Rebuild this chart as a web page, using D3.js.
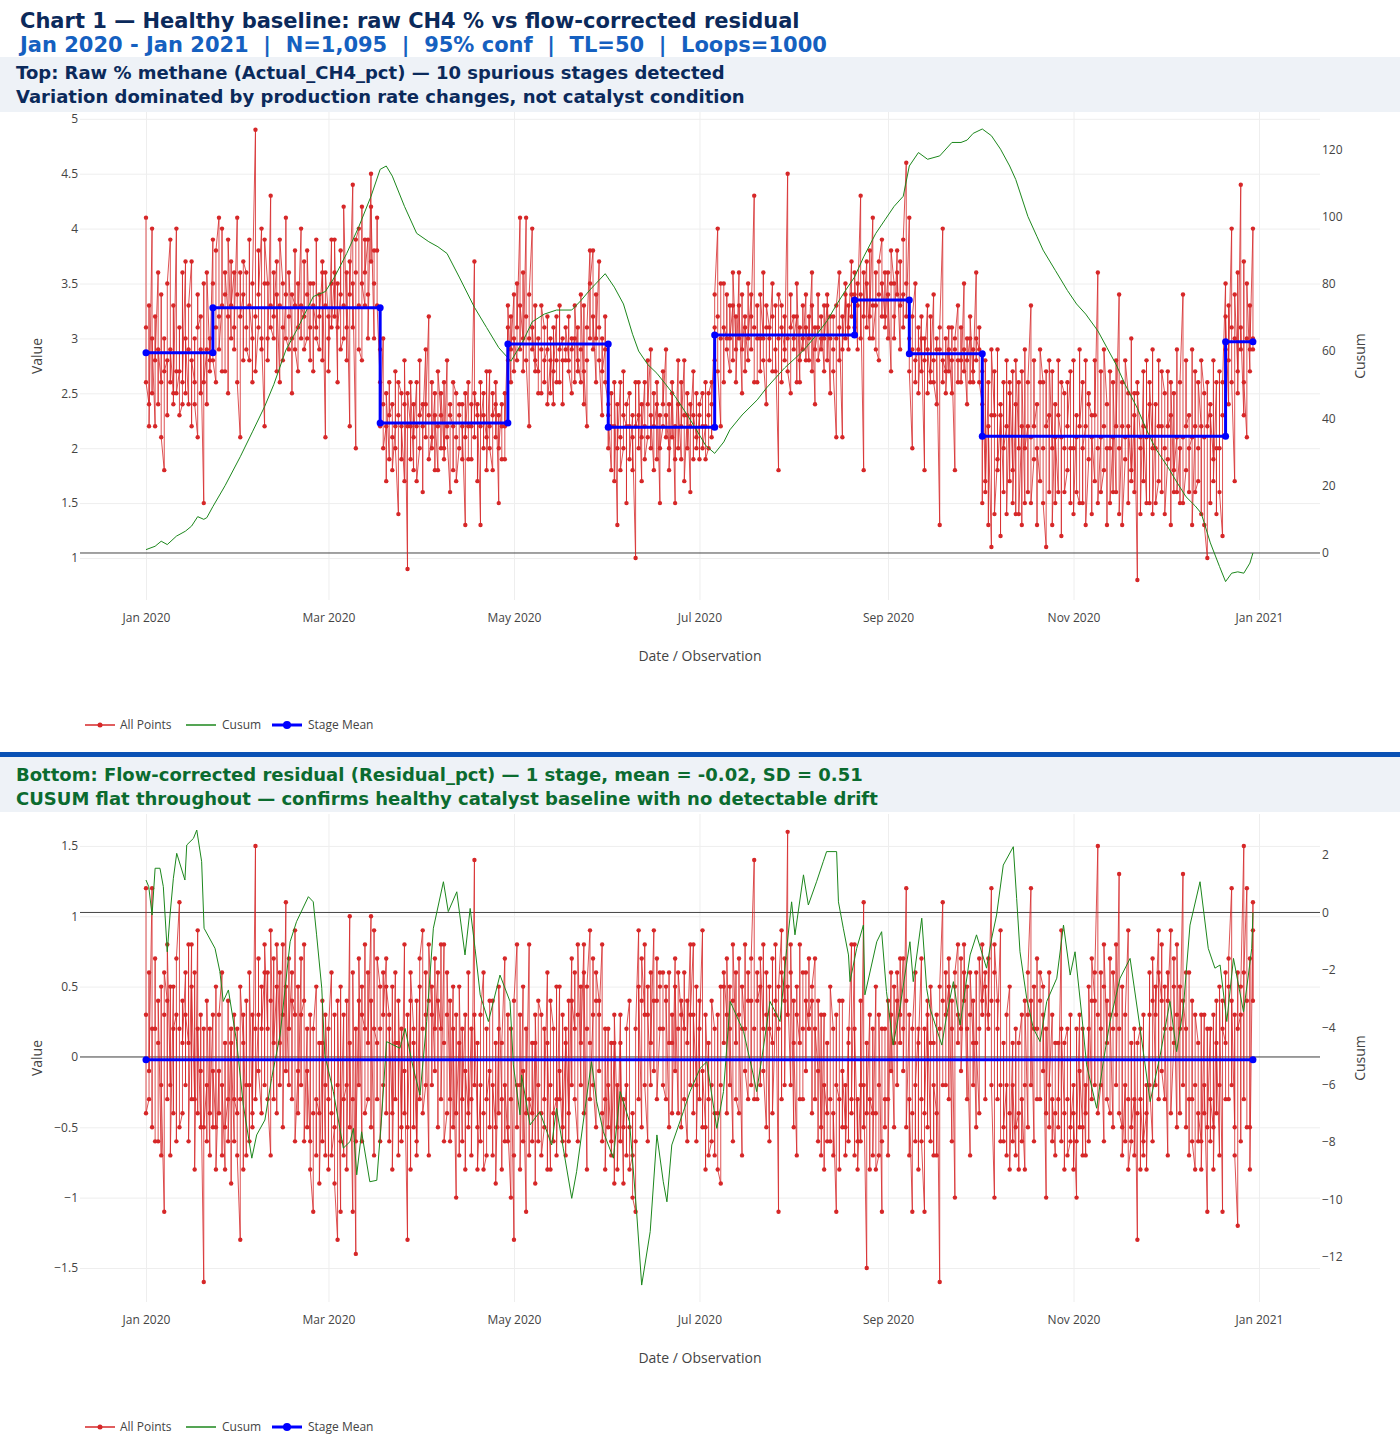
<!DOCTYPE html>
<html><head><meta charset="utf-8">
<script src="https://cdn.jsdelivr.net/npm/d3@7"></script>
<style>body{margin:0;background:#fff;}svg{display:block;font-family:"Open Sans",sans-serif;}</style>
</head><body><svg id="c" width="1400" height="1454"></svg>
<script>
// ---------------- DATA ----------------
const START = "2020-01-01";          // first observation date; 3 observations per daily timestamp
const OBS_PER_DAY = 3;
const xTickLabels = ["2020-01-01","2020-03-01","2020-05-01","2020-07-01","2020-09-01","2020-11-01","2021-01-01"];

// Top panel: raw % methane (Actual_CH4_pct), 1,095 observations
const rawCH4 = [
// stage 1
4.1,3.1,2.6, 2.4,3.3,2.2, 4.0,2.5,3.0, 2.2,3.2,2.8, 3.6,2.4,2.9, 2.6,3.4,2.1, 1.8,3.0,2.7, 2.8,2.3,3.5, 3.9,2.6,2.9, 2.5,3.3,2.4,
4.0,2.7,2.5, 2.7,3.1,2.3, 2.4,3.6,2.6, 3.7,2.5,3.0, 2.4,2.9,3.3, 3.7,2.2,2.8, 2.6,3.0,2.4, 2.1,3.4,3.1, 3.2,2.5,2.9, 1.5,3.5,2.6,
2.9,2.4,3.6, 2.8,3.0,2.7,
// stage 2
3.9,3.5,2.8, 2.6,3.1,3.8, 4.1,3.2,2.9, 3.3,4.0,2.7, 2.7,3.4,3.6, 3.2,2.5,3.9, 3.0,3.7,3.3, 3.6,2.9,3.1, 4.1,3.4,2.6, 2.1,3.6,3.2,
3.4,2.8,3.7, 3.6,3.1,2.9, 2.8,3.9,3.3, 3.0,2.6,3.5, 4.9,3.2,2.7, 3.1,3.8,3.4, 4.0,2.9,3.0, 2.2,3.5,3.9, 3.5,3.0,2.8, 4.3,3.3,3.1,
3.0,3.6,3.2, 3.7,2.7,3.4, 2.6,3.3,3.9, 3.5,3.1,2.8, 3.4,4.1,3.0, 2.9,3.2,3.6, 3.0,2.5,3.4, 3.3,3.8,2.9, 2.7,3.5,3.1, 4.0,3.0,3.3,
3.2,3.7,2.9, 3.0,3.4,3.8, 2.8,3.1,3.5, 3.5,2.7,3.3, 3.1,3.9,3.0, 2.9,3.4,3.2, 3.6,2.8,3.7, 2.1,3.3,3.6, 3.2,3.0,2.7, 3.9,3.5,3.1,
3.6,3.2,3.9, 2.6,3.5,3.1, 3.4,3.8,2.9, 3.0,3.3,4.2, 3.1,2.8,3.6, 2.2,3.7,3.4, 4.4,3.1,3.5, 2.0,3.6,3.9, 4.0,3.3,2.9, 2.8,4.2,3.5,
3.3,3.9,3.6, 3.9,3.4,3.0, 4.5,3.7,4.2, 3.0,3.5,3.8, 3.8,4.1,3.3,
// stage 3
2.6,2.9,2.2, 3.0,2.4,2.0, 2.2,1.7,2.5, 1.9,2.6,2.3, 2.4,2.1,1.8, 2.2,2.7,2.0, 1.4,2.3,2.6, 2.5,1.9,2.2, 1.7,2.4,2.8, 0.9,2.2,2.5,
2.2,1.9,2.6, 1.8,2.4,2.1, 2.6,2.2,1.7, 2.0,2.8,2.3, 2.4,1.6,2.2, 2.9,2.1,2.4, 3.2,2.3,1.9, 2.1,2.6,2.0, 2.5,1.8,2.3, 1.8,2.2,2.7,
2.3,2.0,2.5, 2.0,2.6,1.9, 2.8,2.2,2.1, 1.6,2.4,2.3, 2.2,1.8,2.6, 2.5,2.1,1.7, 2.0,2.3,2.4, 2.4,1.9,2.2, 1.3,2.5,2.1, 2.6,2.2,1.9,
1.9,2.4,2.2, 3.7,2.1,2.5, 2.3,1.7,2.4, 1.3,2.6,2.2, 2.5,2.0,2.3, 2.1,2.7,1.8, 2.7,2.2,2.0, 1.8,2.5,2.3, 2.4,2.1,2.6, 1.5,2.3,2.0,
2.4,2.2,1.9, 1.9,2.5,2.2,
// stage 4
3.1,2.8,3.3, 2.6,3.2,2.9, 3.4,2.7,3.0, 2.8,3.5,3.1, 4.1,2.9,3.3, 3.0,3.6,2.7, 4.1,3.2,2.8, 2.2,3.0,3.4, 4.0,2.9,3.1, 2.7,3.3,2.8,
2.7,3.0,2.5, 2.5,2.9,3.3, 3.1,2.6,2.8, 2.9,3.2,2.4, 2.8,2.5,3.0, 2.4,3.1,2.7, 3.2,2.8,2.6, 2.6,3.3,2.9, 3.0,2.4,2.8, 2.8,2.9,3.1,
2.8,3.2,2.7, 2.5,3.0,2.9, 3.0,2.6,3.3, 2.7,3.1,2.8, 2.6,2.9,3.4, 2.4,3.3,2.7, 2.2,2.8,3.1, 3.8,3.0,3.5, 3.8,2.9,3.2, 2.6,3.4,3.0,
3.7,3.1,2.8, 2.3,3.0,2.7, 2.9,3.2,2.6,
// stage 5
2.4,2.0,2.3, 1.8,2.5,2.2, 2.2,1.7,2.6, 1.3,2.4,2.0, 2.6,2.1,1.8, 2.0,2.7,2.3, 2.2,1.5,2.4, 2.5,2.2,1.9, 2.3,1.8,2.1, 1.0,2.6,2.2,
2.3,2.0,2.6, 1.7,2.4,2.1, 2.6,2.2,1.9, 2.1,2.8,2.4, 2.9,2.0,2.3, 1.8,2.5,2.2, 2.4,1.9,2.6, 1.5,2.3,2.0, 2.2,2.7,2.4, 2.9,2.1,2.3,
2.0,2.4,1.8, 2.5,2.1,2.6, 1.5,2.2,1.9, 2.8,2.0,2.4, 1.9,2.6,2.2, 2.8,2.3,1.7, 2.3,2.0,2.5, 1.6,2.4,2.2, 2.7,1.9,2.3, 2.1,2.5,2.0,
2.3,1.9,2.4, 2.5,2.2,2.0, 2.2,2.6,1.9, 2.0,2.3,2.5, 2.6,2.1,2.4,
// stage 6
3.1,2.8,3.4, 4.0,3.2,2.7, 2.2,3.0,3.5, 3.5,2.6,3.1, 3.0,3.4,2.9, 2.7,3.3,3.0, 3.3,2.8,3.6, 2.9,3.2,2.6, 3.6,3.0,3.3, 2.5,3.4,2.9,
3.2,2.7,3.1, 2.8,3.5,3.0, 3.4,2.9,3.2, 4.3,3.1,2.6, 2.6,3.3,3.0, 3.0,2.7,3.4, 3.0,3.6,2.8, 2.4,3.1,3.3, 3.1,2.8,3.0, 3.5,3.2,2.7,
2.7,3.3,2.9, 1.8,3.0,3.4, 3.3,2.6,3.1, 2.9,3.2,2.8, 4.5,3.0,2.7, 2.5,3.4,3.1, 3.2,2.9,3.0, 3.2,2.6,3.5, 2.6,3.1,2.8, 3.0,3.3,2.9,
3.4,2.8,3.1, 2.8,3.2,3.0, 3.6,2.7,3.3, 2.4,3.1,2.9, 3.1,3.4,2.8, 3.0,2.9,3.2, 2.7,3.3,3.0, 3.3,2.8,3.4, 2.5,3.0,3.2, 3.2,2.9,2.7,
2.1,3.0,3.3, 3.6,2.8,3.1, 2.1,3.2,2.9, 3.4,3.0,3.5, 2.9,3.3,3.1, 3.7,3.2,3.4,
// stage 7
3.4,3.1,3.6, 2.9,3.5,3.3, 4.3,3.0,3.4, 1.8,3.6,3.2, 3.7,3.1,3.5, 3.0,3.8,3.2, 4.1,3.3,3.0, 3.3,3.6,2.9, 2.8,3.4,3.7, 3.9,3.2,3.5,
3.2,3.6,3.1, 3.6,3.0,3.4, 2.7,3.5,3.8, 3.5,3.2,3.0, 3.8,3.4,3.6, 2.9,3.7,3.3, 3.4,3.1,3.9, 4.6,3.5,3.2,
// stage 8
4.1,3.0,2.7, 2.0,2.9,3.2, 3.5,2.6,2.8, 2.9,3.1,2.5, 3.2,2.7,3.0, 1.8,3.0,2.8, 3.3,2.5,2.9, 2.6,3.2,2.7, 3.4,2.8,2.6, 2.4,3.0,2.9,
1.3,2.9,3.1, 4.0,2.6,2.8, 2.7,3.0,2.5, 3.1,2.7,2.9, 2.5,3.1,2.8, 1.8,2.9,3.0, 3.3,2.6,2.8, 2.8,3.1,2.6, 3.5,2.7,2.9, 2.4,3.0,2.8,
3.0,2.6,3.2, 2.6,2.9,2.7, 3.6,2.8,3.0, 2.9,3.1,2.6,
// stage 9
2.4,1.5,2.7, 1.7,2.8,1.6, 2.6,1.3,2.2, 1.1,2.3,2.9, 2.3,2.7,1.4, 1.9,2.9,1.8, 2.3,1.2,2.4, 1.6,2.6,2.0, 2.2,2.8,1.4, 2.5,1.7,2.6,
1.8,2.7,1.5, 2.4,1.4,2.8, 2.0,2.6,1.4, 2.2,1.3,2.7, 1.5,2.9,2.0, 2.2,1.6,2.6, 3.3,2.1,1.5, 1.9,2.8,2.2, 2.4,1.3,2.0, 1.7,2.6,2.9,
2.6,2.0,1.5, 1.1,2.7,2.2, 2.3,1.6,2.8, 2.0,2.7,1.3, 2.4,1.5,2.1, 1.6,2.8,2.3, 2.1,1.2,2.6, 2.5,2.0,1.6, 1.8,2.6,2.2, 2.7,1.5,2.0,
2.0,2.8,1.4, 2.3,2.1,1.6, 1.5,2.9,2.2, 2.6,1.5,2.0, 2.2,2.8,1.3, 1.9,2.5,2.4, 2.3,1.4,2.1, 1.7,2.8,2.3, 3.6,2.0,1.5, 2.1,2.7,1.6,
1.8,2.2,2.9, 2.4,1.3,2.0, 2.0,2.7,1.5, 2.1,1.6,2.6, 1.6,2.8,2.2, 3.4,2.0,1.4, 2.2,2.6,1.3, 1.9,2.1,2.8, 2.5,1.5,2.2, 1.8,3.0,1.7,
2.3,1.6,2.5, 0.8,2.6,2.5, 2.1,2.0,1.4, 2.7,1.7,2.2, 1.5,2.8,2.1, 2.4,1.5,2.6, 2.0,2.9,1.4, 2.4,2.0,1.5, 1.7,2.8,2.2, 2.2,1.6,2.7,
2.5,2.0,1.4, 1.9,2.7,2.2, 2.3,1.3,2.6, 1.6,2.5,1.8, 2.1,2.9,1.6, 2.0,1.5,2.6, 3.4,2.1,1.5, 1.8,2.8,2.2, 2.3,1.6,2.0, 2.1,2.9,1.3,
2.2,2.7,1.6, 1.7,2.0,2.6, 2.2,1.4,2.8, 2.5,2.1,1.3, 1.0,2.6,2.2, 2.4,1.5,2.3, 1.9,2.8,1.7, 2.6,1.4,2.0, 2.0,2.7,1.6, 1.2,2.3,2.6,
// stage 10
3.5,2.9,3.2, 2.4,3.3,2.8, 4.0,3.1,2.6, 1.7,3.0,3.4, 2.7,3.6,2.5, 4.4,2.9,3.1, 2.3,3.7,2.6, 2.1,3.0,3.5, 2.7,3.3,2.9, 4.0,3.0,2.9
];

// Bottom panel: flow-corrected residual (Residual_pct), 1,095 observations
const residual = [
1.2,0.3,-0.4, -0.3,0.6,-0.1, 1.2,-0.5,0.2, 0.2,0.7,-0.6, -0.6,0.1,0.4, -0.7,0.5,-0.2, -1.1,0.3,0.6, 0.4,-0.3,0.8, -0.2,0.5,-0.7, 0.5,-0.4,0.2,
0.3,-0.6,0.7, 1.1,0.2,-0.5, -0.4,0.4,0.1, 0.6,-0.2,0.3, 0.1,0.8,-0.6, 0.8,-0.3,0.5, -0.3,0.6,-0.8, 0.9,-0.4,0.2, -0.5,0.3,-0.1, -1.6,0.2,-0.5,
-0.2,-0.6,0.4, -0.7,0.2,-0.4, 0.3,-0.5,-0.1, -0.5,0.5,-0.8, -0.1,-0.4,0.3, 0.6,-0.7,-0.2, -0.8,0.1,-0.5, -0.3,0.4,-0.6, 0.2,-0.9,0.1, -0.6,0.3,-0.3,
-0.4,0.2,-0.7, -1.3,-0.3,0.5, 0.1,-0.8,0.3, -0.7,0.4,-0.2, -0.2,-0.6,0.6, -0.5,0.3,-0.4, 1.5,0.2,-0.3, 0.3,0.7,-0.1, -0.4,0.5,0.2, 0.6,-0.2,0.8,
0.2,0.6,-0.3, -0.7,0.4,0.9, -0.3,0.7,0.1, 0.5,-0.4,0.8, 0.1,0.6,-0.2, 0.8,0.3,-0.5, 1.1,-0.1,0.5, -0.2,0.7,0.2, 0.6,-0.3,0.4, 0.3,0.9,-0.6,
-0.1,0.5,-0.4, 0.7,-0.2,0.3, 0.4,0.8,-0.6, 0.2,-0.5,-0.1, -0.6,0.3,-0.8, -1.1,-0.4,0.2, 0.5,-0.7,-0.3, -0.4,0.1,-0.9, 0.1,-0.6,0.4, -0.7,-0.2,0.3,
-0.3,-0.8,0.2, 0.6,-0.4,-0.7, -0.5,0.3,-0.9, -1.3,-0.2,0.4, -1.1,0.5,-0.6, 0.3,-0.7,-0.3, -0.2,0.4,-0.8, 1.0,-0.5,0.1, -1.1,-0.3,0.6, -1.4,0.2,-0.6,
0.4,-0.2,0.7, -0.6,0.5,0.3, 0.2,0.8,-0.4, -0.3,0.6,0.1, 1.0,-0.5,0.4, -0.7,0.9,0.2, 0.1,-0.3,0.7, 0.5,0.2,-0.6, -0.2,0.6,0.3, 0.7,-0.4,0.5,
0.3,-0.6,0.2, -0.4,0.5,-0.8, 0.6,-0.3,0.1, 0.1,-0.7,0.4, -0.5,0.2,-0.6, 0.8,-0.4,-0.1, -1.3,0.3,-0.5, 0.4,-0.8,0.6, 0.2,-0.5,0.1, -0.6,0.4,-0.7,
0.5,-0.3,0.7, 0.9,0.2,-0.4, -0.2,0.6,0.3, -0.7,0.4,0.8, 0.3,-0.2,0.5, -0.1,0.7,0.2, 0.6,-0.5,0.4, 0.2,0.8,-0.3, 0.8,0.1,-0.6, -0.4,0.3,0.6,
-0.3,0.4,-0.6, 0.5,-0.5,0.2, -1.0,0.3,-0.4, 0.1,-0.7,0.5, -0.6,0.2,-0.3, 0.3,-0.8,-0.1, -0.4,0.6,-0.5, 0.2,-0.3,-0.7, 1.4,-0.2,0.3, -0.5,0.1,-0.8,
-0.2,-0.6,0.3, 0.6,-0.4,-0.8, -0.7,0.2,-0.3, -0.1,-0.5,0.4, 0.4,-0.7,-0.2, -0.5,0.1,-0.9, 0.2,-0.4,0.5, -0.3,-0.8,0.1, 0.7,-0.6,-0.2, -0.6,0.3,-0.5,
-1.0,-0.3,0.2, -1.3,-0.7,0.4, 0.8,-0.5,-0.2, -0.2,0.3,-0.8, 0.5,-0.6,-0.1, -1.1,0.2,-0.4, 0.8,-0.7,-0.3, -0.4,0.1,-0.6, 0.1,-0.9,0.3, -0.6,-0.2,0.4,
0.3,-0.4,-0.7, -0.5,0.2,-0.3, 0.6,-0.8,0.1, -0.8,-0.2,0.4, 0.2,-0.6,-0.4, -0.3,0.5,-0.7, 0.5,-0.3,-0.1, -0.6,0.3,-0.5, 0.1,-0.7,0.2, -0.4,0.4,-0.6,
0.7,-0.2,0.4, 0.2,0.6,-0.3, -0.6,0.3,0.8, -0.2,0.5,0.1, 0.8,-0.4,0.6, -0.8,0.2,0.5, 0.9,0.1,-0.3, 0.3,0.7,-0.2, -0.5,0.4,0.6, 0.4,-0.1,0.3,
0.8,-0.4,-0.6, -0.3,0.2,-0.8, 0.2,-0.5,-0.2, -0.6,0.1,-0.7, 0.1,-0.9,0.3, -0.5,-0.2,-0.8, 0.3,-0.6,0.1, -0.9,-0.3,-0.5, -0.2,-0.7,0.2, 0.4,-0.5,-0.8,
-0.7,-0.4,-1.0, -1.1,-0.6,0.2, 0.9,-0.3,0.5, -0.5,0.4,0.7, 0.3,0.8,-0.2, -0.6,0.5,0.3, -0.2,0.6,0.1, 0.9,-0.1,0.4, 0.4,0.7,-0.3, 0.2,0.5,0.6,
0.6,0.2,-0.2, -0.3,0.5,0.4, -0.5,0.6,0.1, 0.1,0.3,-0.4, 0.7,-0.1,0.5, -0.4,0.2,0.6, 0.3,-0.5,0.4, 0.2,0.6,-0.3, -0.6,0.4,0.1, 0.8,-0.2,0.3,
0.8,-0.4,0.3, -0.2,0.5,-0.6, 0.4,-0.3,0.2, 0.9,-0.5,-0.1, -0.5,-0.8,0.3, -0.3,0.1,-0.7, -0.6,-0.2,0.4, 0.2,-0.7,-0.4, -0.4,0.3,-0.8, -0.9,-0.2,0.5,
0.5,0.1,0.6, 0.3,-0.4,0.7, -0.2,0.5,0.2, -0.6,0.4,0.8, 0.1,0.6,-0.3, -0.4,0.7,0.3, -0.7,0.2,0.5, 0.2,0.8,-0.1, -0.3,0.6,0.4, 0.4,-0.2,0.7,
1.4,0.2,-0.3, -0.3,0.6,0.4, 0.5,-0.2,0.7, 0.2,0.8,-0.1, -0.5,0.3,0.6, -0.6,0.5,0.2, 0.1,0.7,-0.4, 0.3,0.4,0.8, -1.1,0.2,0.5, 0.9,-0.3,0.6,
0.4,0.7,-0.2, 1.6,0.3,0.5, -0.2,0.6,0.8, -0.5,0.4,0.1, -0.7,0.5,0.3, 0.1,0.8,-0.3, -0.3,0.2,0.6, 0.6,-0.1,0.4, 0.2,0.7,0.3, 0.4,-0.4,0.5,
0.7,-0.3,0.2, -0.1,-0.6,0.4, -0.5,0.3,-0.7, 0.3,-0.8,-0.2, -0.4,0.1,-0.6, -0.6,-0.3,0.5, 0.2,-0.7,-0.4, -1.1,0.3,-0.2, -0.3,-0.8,0.4, 0.4,-0.5,-0.1,
-0.5,-0.2,-0.7, 0.2,-0.6,0.1, 0.8,-0.4,-0.3, 0.8,-0.7,0.2, -0.6,-0.3,-0.8, -0.2,0.4,-0.6, 1.1,-0.5,-0.2, -1.5,0.1,-0.4, 0.3,-0.8,-0.3, -0.4,0.2,-0.7,
0.5,-0.4,-0.8, -0.7,-0.2,0.3, -1.1,-0.6,0.2, 0.2,-0.5,-0.3, -0.3,0.4,-0.7, 0.6,-0.1,0.3, -0.5,0.5,0.1, 0.4,-0.2,0.6, 0.1,0.7,0.3, 0.7,0.2,-0.1,
1.2,0.4,-0.5, 0.3,-0.7,-0.3, -1.1,-0.4,0.2, 0.6,-0.6,-0.2, 0.2,-0.8,0.1, 0.7,-0.3,-0.6, -1.1,0.2,-0.4, 0.4,-0.5,0.3, -0.6,0.1,0.5, 0.1,-0.7,-0.2,
-0.4,-0.7,0.3, -1.6,0.2,0.5, 1.1,0.4,-0.2, -0.2,0.6,0.3, 0.5,-0.3,0.7, -0.6,0.2,0.4, -1.0,0.5,0.6, 0.8,0.1,0.3, 0.2,0.7,-0.1, 0.6,0.4,0.8,
-0.3,0.5,0.2, -0.7,0.3,0.6, 0.1,-0.2,0.4, -0.5,0.6,0.1, -0.4,0.2,0.7, 0.3,0.8,0.4, 0.6,-0.3,0.5, 0.2,0.7,0.3, 1.2,0.4,-0.2, -1.0,0.6,0.8,
0.4,-0.3,0.2, 0.9,-0.2,-0.6, -0.6,0.1,-0.5, -0.2,-0.7,0.3, 0.5,-0.4,-0.8, 0.1,-0.6,-0.2, -0.7,0.2,-0.5, -0.4,-0.8,0.1, 0.3,-0.6,-0.3, -0.8,-0.2,0.4,
-0.5,0.3,0.6, 1.2,-0.2,0.4, -0.6,0.5,0.2, 0.2,0.7,-0.3, -0.3,0.4,0.6, 0.5,-0.1,0.3, -1.0,0.2,-0.4, 0.6,-0.5,-0.2, 0.3,-0.6,-0.3, -0.7,-0.4,0.1,
0.1,-0.5,-0.3, 0.9,-0.6,0.2, -0.4,-0.8,0.1, 0.2,-0.3,-0.7, -0.6,0.3,-0.5, -0.2,-0.8,-0.4, -1.0,0.2,-0.6, 0.3,-0.5,-0.1, -0.5,-0.7,0.2, -0.7,-0.2,-0.4,
0.2,-0.6,0.5, -0.3,0.4,0.7, 0.4,-0.2,0.6, 1.5,0.3,-0.4, -0.2,0.6,0.2, -0.6,0.5,0.8, 0.1,0.4,-0.3, -0.4,0.7,0.3, -0.5,0.2,0.6, 0.3,0.8,-0.2,
1.3,0.2,-0.4, -0.5,0.5,-0.7, -0.2,-0.6,0.3, 0.9,-0.3,-0.8, -0.6,0.1,-0.5, -0.3,-0.7,0.2, -1.3,-0.4,0.1, 0.2,-0.8,-0.3, -0.7,0.3,-0.6, -0.4,-0.2,-0.8,
0.3,0.6,-0.2, -0.6,0.4,0.7, -0.2,0.5,0.3, 0.9,-0.3,0.6, 0.4,0.8,-0.1, -0.3,0.5,0.2, -0.7,0.6,0.4, 0.9,0.2,-0.4, 0.1,0.7,0.5, -0.5,0.3,0.8,
-0.4,0.5,0.2, 1.3,-0.2,0.4, 0.2,-0.5,0.6, 0.6,-0.7,-0.3, -0.3,0.4,-0.6, -0.8,-0.2,0.3, 0.1,-0.6,-0.4, -0.6,0.3,-0.8, 0.3,-0.4,-0.2, -1.1,0.2,-0.5,
0.2,-0.6,-0.3, -0.5,0.3,-0.8, 0.4,-0.4,0.1, -0.7,-0.2,0.5, -1.1,0.4,0.2, 0.1,0.6,-0.3, -0.3,0.5,0.7, 1.2,-0.2,0.4, -0.5,0.3,-0.7, -1.2,0.6,0.2,
0.3,-0.6,0.5, 1.5,-0.3,0.6, 1.2,0.4,-0.5, -0.5,0.7,-0.8, 1.1,0.4,0.9
];

// stage means (top: 10 stages, bottom: 1 stage)
const topStageStart = ["2020-01-01","2020-01-23","2020-03-18","2020-04-29","2020-06-01","2020-07-06","2020-08-21","2020-09-08","2020-10-02","2020-12-21"];
const topStageEnd   = ["2020-01-23","2020-03-18","2020-04-29","2020-06-01","2020-07-06","2020-08-21","2020-09-08","2020-10-02","2020-12-21","2020-12-30"];
const topStageMean  = [2.87,3.28,2.23,2.95,2.19,3.03,3.35,2.86,2.11,2.97];
const botStageStart = ["2020-01-01"];
const botStageEnd   = ["2020-12-30"];
const botStageMean  = [-0.02];

// CUSUM readings (day offset from START, value)
const cusumTopDay = [0,3,5,7,10,13,15,17,19,20,22,26,31,35,39,42,46,50,55,59,62,66,70,74,77,79,81,85,89,93,96,99,103,108,112,116,120,124,127,131,135,140,143,146,151,154,157,160,162,165,168,171,174,178,181,184,187,190,192,196,201,204,207,210,214,217,220,224,227,230,233,236,240,243,246,249,251,254,257,261,265,268,270,272,275,278,281,284,286,290,293,295,299,303,306,309,313,316,319,322,326,329,332,336,339,342,345,347,350,353,355,357,359,361,363,364];
const cusumTopVal = [1,2,3.5,2.5,5,6.5,8,10.8,10,10.5,13.8,20,28.6,36,43.5,50,60.3,67,76.2,77.7,82,89,97,106,114,115,112,103,95,92.5,91,89,82,73,67,61,57,63,68.7,71,72.2,72.2,75,78.2,83,79,74,65,60,56,53.4,50,46.5,41,36.6,32,29.6,33,36.6,41,45.5,49,52,55,58.3,61,64.3,69,73.7,78,82,88,95,99,103,106,115,119,117,118,122,122,122.7,124.7,126,124,120,115,111,100,94,90,84,78,74,71,66,61,56,50,43,36.6,31,25.6,21,16.7,14,11.8,3,-4,-8.5,-6,-5.6,-6,-3,0];

const cusumBotDay = [0,0.9,2,3,4.6,5.7,7,7.9,9,10.1,12.8,13.4,15.6,16.7,18.3,19.1,22.7,24.3,25.4,27.1,29.8,32,34.8,36.4,39.1,41.3,44.1,47.4,49.5,53.4,55,56.1,57.8,58.8,61.6,64.9,67.1,68.2,69.3,70.9,73.6,75.9,77.5,79.1,83.5,85.2,87.9,90.1,92.3,94.5,97.8,99.4,102.2,104.9,106.6,108.2,109.9,112.6,116.4,119.7,120.8,123,123.5,126.3,129.5,133.4,135,137.2,140,141.6,144.4,146.5,148.2,150.4,153.7,155.9,159,161.4,163,165.8,168,170.1,171.3,172.9,176.7,178.9,182.2,184.4,187.7,189.9,192.1,196.5,199.7,200.8,203,205.2,208.5,210.7,212.3,213.4,216.2,217.8,220.5,222.7,223.8,227.1,227.7,229.3,231,231.5,233.7,235.9,236.4,240.3,241.9,243.5,245.7,247.9,251.2,252.3,255.1,256.7,257.8,261.7,263.3,265.5,267.7,271,273.1,276.4,278.1,279.7,281.9,285.2,286.3,287.4,289.6,291.8,294,296.2,299.5,301.7,303.9,305.5,307.7,309.3,312.6,314.8,317,320.3,323.6,326.9,330.2,333.5,336.7,338.9,341.1,343.3,346.6,349.3,351.5,353.2,355.4,357.6,360.9,362.5,363.6,364];
const cusumBotVal = [1.13,0.9,-0.09,1.54,1.54,0.9,-1.37,-0.09,1.19,2.06,1.13,2.35,2.58,2.87,1.77,-0.55,-1.25,-2.06,-3.1,-2.7,-4.5,-6.71,-8.56,-7.75,-7.23,-5.78,-4.27,-1.02,-0.32,0.55,0.37,-0.78,-2.64,-4.96,-6.24,-8.21,-7.98,-7.52,-9.14,-7.64,-9.38,-9.33,-7.1,-4.5,-4.73,-4.04,-5.43,-6.36,-3.8,-0.55,1.07,0.03,0.72,-1.48,0.14,-1.25,-2.87,-3.8,-2.18,-3.1,-5.31,-7.05,-5.66,-7.4,-6.94,-8.1,-6.82,-8.21,-9.96,-9.03,-6.82,-5.2,-6.59,-7.64,-8.56,-6.24,-7.29,-10.54,-12.98,-11.12,-7.75,-9.38,-10.08,-8.1,-6.94,-6.24,-5.43,-5.2,-7.52,-6.24,-3.1,-4.15,-5.66,-6.24,-4.73,-3.1,-3.8,-1.25,0.37,-0.78,1.31,0.26,1.07,1.77,2.12,2.12,0.37,-0.55,-1.48,-2.41,-1.25,-0.44,-2.87,-1.02,-0.67,-2.76,-4.62,-3.34,-1.02,-2.41,-0.2,-2.64,-3.34,-4.62,-3.57,-2.41,-3.92,-1.48,-0.78,-1.94,-0.9,-0.09,1.65,2.29,0.49,-1.37,-2.99,-4.04,-4.5,-3.1,-2.29,-0.44,-2.18,-1.37,-3.57,-5.31,-6.82,-5.2,-3.8,-2.29,-1.6,-4.04,-6.59,-4.97,-3.1,-4.85,-3.34,-0.44,1.07,-1.25,-1.94,-1.83,-3.8,-1.6,-3.46,-2.18,-1.25,0];

const topLeftTicks = [1,1.5,2,2.5,3,3.5,4,4.5,5];
const topRightTicks = [0,20,40,60,80,100,120];
const botLeftTicks = [-1.5,-1,-0.5,0,0.5,1,1.5];
const botRightTicks = [-12,-10,-8,-6,-4,-2,0,2];

const texts = {
  title: "Chart 1 \u2014 Healthy baseline: raw CH4 % vs flow-corrected residual",
  subtitle: "Jan 2020 - Jan 2021  |  N=1,095  |  95% conf  |  TL=50  |  Loops=1000",
  top1: "Top: Raw % methane (Actual_CH4_pct) \u2014 10 spurious stages detected",
  top2: "Variation dominated by production rate changes, not catalyst condition",
  bot1: "Bottom: Flow-corrected residual (Residual_pct) \u2014 1 stage, mean = -0.02, SD = 0.51",
  bot2: "CUSUM flat throughout \u2014 confirms healthy catalyst baseline with no detectable drift",
  xTitle: "Date / Observation", yLeft: "Value", yRight: "Cusum",
  legend: ["All Points","Cusum","Stage Mean"]
};

// ---------------- DRAW ----------------
const svg = d3.select("#c");
const t0 = d3.utcParse("%Y-%m-%d")(START);
const DAY = 864e5;
const dd = d => new Date(t0.getTime() + d*DAY);
const pd = s => d3.utcParse("%Y-%m-%d")(s);
const X0 = 80, X1 = 1320;
const x = d3.scaleUtc().domain([dd(-21.70), dd(386.05)]).range([X0, X1]);

const C = {red:"#d62728", green:"#1c871c", blue:"#0000ff", grid:"#eeeeee", zero:"#444", text:"#444"};
const FONT_H = "'DejaVu Sans', sans-serif";

svg.append("text").attr("x",20).attr("y",28).attr("font-family",FONT_H).attr("font-weight","bold")
  .attr("font-size",21).attr("fill","#0b2a5b").style("white-space","pre").text(texts.title);
svg.append("text").attr("x",20).attr("y",52).attr("font-family",FONT_H).attr("font-weight","bold")
  .attr("font-size",21).attr("fill","#1560c0").style("white-space","pre").text(texts.subtitle);

function band(y0, b1, b2, l1, l2, color){
  svg.append("rect").attr("x",0).attr("y",y0).attr("width",1400).attr("height",55).attr("fill","#eef2f7");
  svg.append("text").attr("x",16).attr("y",b1).attr("font-family",FONT_H).attr("font-weight","bold")
    .attr("font-size",18).attr("fill",color).text(l1);
  svg.append("text").attr("x",16).attr("y",b2).attr("font-family",FONT_H).attr("font-weight","bold")
    .attr("font-size",18).attr("fill",color).text(l2);
}

function panel(cfg){
  const g = svg.append("g");
  const y = d3.scaleLinear().domain(cfg.yDom).range([cfg.y1, cfg.y0]);
  const yc = d3.scaleLinear().domain(cfg.cDom).range([cfg.y1, cfg.y0]);
  const xt = xTickLabels.map(pd);
  g.append("g").attr("transform",`translate(0,${cfg.y1})`)
    .call(d3.axisBottom(x).tickValues(xt).tickSize(-(cfg.y1-cfg.y0)).tickFormat(""))
    .call(s=>{s.select(".domain").remove(); s.selectAll("line").attr("stroke",C.grid);});
  g.append("g").attr("transform",`translate(${X0},0)`)
    .call(d3.axisLeft(y).tickValues(cfg.leftTicks).tickSize(-(X1-X0)).tickFormat(""))
    .call(s=>{s.select(".domain").remove(); s.selectAll("line").attr("stroke",C.grid);});
  const lab = s=>{s.select(".domain").remove(); s.selectAll("text").attr("font-size",12).attr("fill",C.text).attr("font-family","'Open Sans',sans-serif");};
  g.append("g").attr("transform",`translate(${X0},0)`)
    .call(d3.axisLeft(y).tickValues(cfg.leftTicks).tickSize(0).tickPadding(2).tickFormat(d3.format("~g"))).call(lab);
  g.append("g").attr("transform",`translate(${X1},0)`)
    .call(d3.axisRight(yc).tickValues(cfg.rightTicks).tickSize(0).tickPadding(2).tickFormat(d3.format("~g"))).call(lab);
  g.append("g").attr("transform",`translate(0,${cfg.y1})`)
    .call(d3.axisBottom(x).tickValues(xt).tickSize(0).tickPadding(13).tickFormat(d3.utcFormat("%b %Y"))).call(lab);
  g.append("line").attr("x1",X0).attr("x2",X1).attr("y1",yc(0)).attr("y2",yc(0)).attr("stroke",C.zero).attr("stroke-width",1);
  if (cfg.yDom[0] < 0 && cfg.yDom[1] > 0)
    g.append("line").attr("x1",X0).attr("x2",X1).attr("y1",y(0)).attr("y2",y(0)).attr("stroke",C.zero).attr("stroke-width",1);
  const yMid = (cfg.y0+cfg.y1)/2;
  g.append("text").attr("transform",`translate(42,${yMid}) rotate(-90)`).attr("text-anchor","middle")
    .attr("font-size",14).attr("fill",C.text).text(texts.yLeft);
  g.append("text").attr("transform",`translate(1365,${yMid}) rotate(-90)`).attr("text-anchor","middle")
    .attr("font-size",14).attr("fill",C.text).text(texts.yRight);
  g.append("text").attr("x",700).attr("y",cfg.y1+61).attr("text-anchor","middle")
    .attr("font-size",14).attr("fill",C.text).text(texts.xTitle);

  // observations share the daily timestamp -> vertical runs per day
  const pts = cfg.values.map((v,i)=>({d:dd(Math.floor(i/OBS_PER_DAY)), v}));
  g.append("path").datum(pts).attr("fill","none").attr("stroke",C.red).attr("stroke-width",1).attr("stroke-opacity",0.8)
    .attr("d", d3.line().x(p=>x(p.d)).y(p=>y(p.v)));
  g.append("g").selectAll("circle").data(pts).join("circle")
    .attr("cx",p=>x(p.d)).attr("cy",p=>y(p.v)).attr("r",2.2).attr("fill",C.red);
  const cs = cfg.cDay.map((d,i)=>({d:dd(d), v:cfg.cVal[i]}));
  g.append("path").datum(cs).attr("fill","none").attr("stroke",C.green).attr("stroke-width",1)
    .attr("d", d3.line().x(p=>x(p.d)).y(p=>yc(p.v)));
  const st = [];
  cfg.sStart.forEach((s,i)=>{ st.push({d:pd(s), v:cfg.sMean[i]}); st.push({d:pd(cfg.sEnd[i]), v:cfg.sMean[i]}); });
  g.append("path").datum(st).attr("fill","none").attr("stroke",C.blue).attr("stroke-width",3)
    .attr("d", d3.line().x(p=>x(p.d)).y(p=>y(p.v)));
  g.append("g").selectAll("circle").data(st).join("circle")
    .attr("cx",p=>x(p.d)).attr("cy",p=>y(p.v)).attr("r",3.5).attr("fill",C.blue);

  const ly = cfg.legendY;
  const L = g.append("g").attr("font-size",12).attr("fill",C.text);
  L.append("line").attr("x1",85).attr("x2",115).attr("y1",ly).attr("y2",ly).attr("stroke",C.red).attr("stroke-width",1.5);
  L.append("circle").attr("cx",100).attr("cy",ly).attr("r",2.5).attr("fill",C.red);
  L.append("text").attr("x",120).attr("y",ly+4).text(texts.legend[0]);
  L.append("line").attr("x1",186).attr("x2",216).attr("y1",ly).attr("y2",ly).attr("stroke",C.green).attr("stroke-width",1.5);
  L.append("text").attr("x",222).attr("y",ly+4).text(texts.legend[1]);
  L.append("line").attr("x1",272).attr("x2",302).attr("y1",ly).attr("y2",ly).attr("stroke",C.blue).attr("stroke-width",3);
  L.append("circle").attr("cx",287).attr("cy",ly).attr("r",4).attr("fill",C.blue);
  L.append("text").attr("x",308).attr("y",ly+4).text(texts.legend[2]);
}

panel({y0:112, y1:600, yDom:[0.6175,5.062], cDom:[-13.97,131.05],
  leftTicks:topLeftTicks, rightTicks:topRightTicks, values:rawCH4,
  cDay:cusumTopDay, cVal:cusumTopVal, sStart:topStageStart, sEnd:topStageEnd, sMean:topStageMean, legendY:725});
panel({y0:814, y1:1302, yDom:[-1.742,1.727], cDom:[-13.57,3.43],
  leftTicks:botLeftTicks, rightTicks:botRightTicks, values:residual,
  cDay:cusumBotDay, cVal:cusumBotVal, sStart:botStageStart, sEnd:botStageEnd, sMean:botStageMean, legendY:1427});

band(57, 79, 103, texts.top1, texts.top2, "#0b2a5b");
svg.append("rect").attr("x",0).attr("y",752).attr("width",1400).attr("height",5).attr("fill","#0a52b5");
band(757, 781, 805, texts.bot1, texts.bot2, "#0b6b2f");
</script></body></html>
